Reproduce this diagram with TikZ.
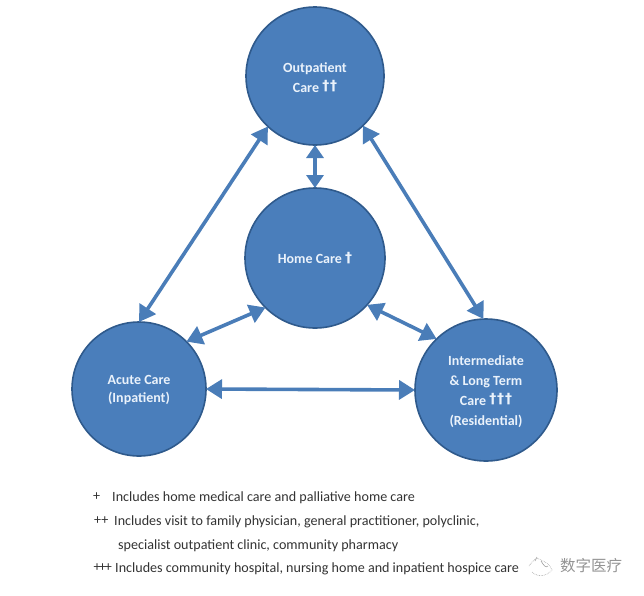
\documentclass[tikz,border=0pt]{standalone}
\usepackage{fontspec}
\setmainfont{Carlito}
\newfontfamily\cjkfont{Noto Sans CJK SC}
\newfontfamily\dagfont[LetterSpace=6]{DejaVu Sans}
\newcommand{\hubdag}[1]{\raisebox{1.5pt}{{\dagfont\bfseries\fontsize{14}{14}\selectfont #1}}}
\usetikzlibrary{arrows.meta}
\definecolor{hubfill}{HTML}{4A7EBB}
\definecolor{hubline}{HTML}{2F5A8C}
\definecolor{arrowblue}{HTML}{4A7DB8}
\definecolor{hubtext}{HTML}{EAF2FB}
\definecolor{notetext}{HTML}{333333}
\tikzset{
  hub/.style={circle,draw=hubline,line width=1.6pt,fill=hubfill,inner sep=0pt,outer sep=0pt,
    text=hubtext,font=\bfseries\fontsize{14}{20}\selectfont,align=center},
  link/.style={draw=arrowblue,line width=3.6pt,{Triangle[length=16pt,width=19pt]}-{Triangle[length=16pt,width=19pt]}},
  note/.style={anchor=west,inner sep=0pt,text=notetext,font=\fontsize{14.1}{16}\selectfont}
}
\begin{document}
\begin{tikzpicture}[x=1pt,y=-1pt]
\useasboundingbox (0,0) rectangle (644,595);
\node[hub,minimum size=138pt] (out) at (315,76) {\rule{0pt}{13pt}Outpatient\\Care \hubdag{††}};
\node[hub,minimum size=140pt] (home) at (315,258) {Home Care \hubdag{†}};
\node[hub,minimum size=134pt,font=\bfseries\fontsize{14}{18}\selectfont] (acute) at (139,389) {\rule{0pt}{12pt}Acute Care\\(Inpatient)};
\node[hub,minimum size=142pt] (inter) at (486,390) {\rule{0pt}{13pt}Intermediate\\\& Long Term\\Care \hubdag{†††}\\(Residential)};
\draw[link] (out.227) -- (acute.90);
\draw[link] (out.314) -- (inter.92);
\draw[link,line width=3.2pt,{Triangle[length=13pt,width=17pt]}-{Triangle[length=13pt,width=17pt]}] (out.270) -- (home.90);
\draw[link] (acute.45) -- (home.225);
\draw[link] (home.318) -- (inter.134);
\draw[link] (acute.0) -- (inter.180);
\node[note] (n1m) at (93,497) {+};
\node[note] (n1) at (112,497.5) {Includes home medical care and palliative home care};
\node[note] (n2m) at (94,521) {++};
\node[note] (n2) at (114,521.5) {Includes visit to family physician, general practitioner, polyclinic,};
\node[note] (n3) at (118,545.5) {specialist outpatient clinic, community pharmacy};
\node[note] (n4m) at (94,568) {\kern-0.5pt+\kern-1.5pt+\kern-1.5pt+};
\node[note] (n4) at (115,568.5) {Includes community hospital, nursing home and inpatient hospice care};
\node[anchor=west,inner sep=0pt,text=black!42,font=\cjkfont\fontsize{15.5}{18}\selectfont] (wm) at (560,566) {数字医疗};
\draw[black!38,line width=0.6pt,densely dotted] (529,566) .. controls (533,560) and (537,556) .. (541,560) .. controls (545,562) and (550,564) .. (552,570) .. controls (547,576) and (538,578) .. (532,572);
\draw[black!38,line width=0.6pt] (535,561) -- (537,557) (541,561) .. controls (544,566) and (546,568) .. (548,566);
\end{tikzpicture}
\end{document}
